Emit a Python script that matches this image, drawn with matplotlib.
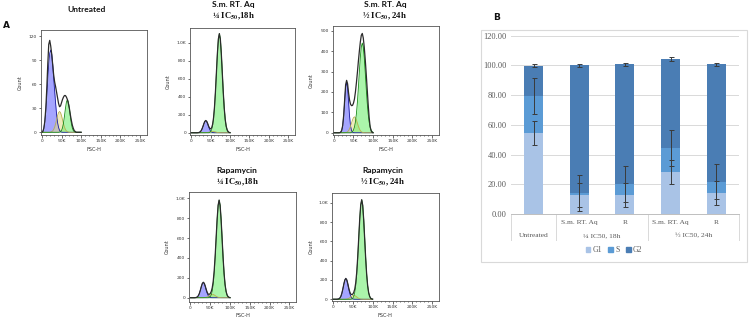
import numpy as np
import matplotlib
matplotlib.use("Agg")
import matplotlib.pyplot as plt
from matplotlib.patches import Rectangle
from matplotlib.transforms import blended_transform_factory

plt.rcParams['mathtext.fontset'] = 'stix'

# ---------------- Panel A data (FSC-H in thousands, counts) ----------------
FSC_K = [0, 2.5, 5, 7.5, 10, 12.5, 15, 17.5, 20, 22.5, 25, 27.5, 30, 32.5, 35, 37.5, 40,
         42.5, 45, 47.5, 50, 52.5, 55, 57.5, 60, 62.5, 65, 67.5, 70, 72.5, 75, 77.5, 80,
         82.5, 85, 87.5, 90, 92.5, 95, 97.5, 100]

# Untreated
UNT_G1 = [0, 1, 5, 13, 26, 44, 66, 86, 99, 103, 98, 85, 68, 52, 36, 22, 12, 6, 2.5, 1, 0.3,
          0, 0, 0, 0, 0, 0, 0, 0, 0, 0, 0, 0, 0, 0, 0, 0, 0, 0, 0, 0]
UNT_S = [0, 0, 0, 0, 0, 0, 0, 0, 0, 0.3, 0.8, 1.7, 3.5, 6.5, 10.7, 15.8, 20.8, 24.6, 26, 24.6,
         20.8, 15.8, 10.7, 6.5, 3.5, 1.7, 0.8, 0.3, 0, 0, 0, 0, 0, 0, 0, 0, 0, 0, 0, 0, 0]
UNT_G2 = [0, 0, 0, 0, 0, 0, 0, 0, 0, 0, 0, 0, 0, 0, 0, 0, 0, 0, 0.3, 0.8, 2.3, 5.5, 11.4, 20,
          29.8, 37.8, 41, 37.8, 29.8, 20, 11.4, 5.5, 2.3, 0.8, 0.3, 0, 0, 0, 0, 0, 0]
UNT_TOTAL = [0, 1, 5, 14, 30, 55, 85, 110, 115, 108, 98, 85, 72, 63, 57, 50, 43, 36, 32, 33,
             37, 41, 44, 46, 46, 44, 41, 36, 30, 22, 15, 9, 5, 2, 1, 0, 0, 0, 0, 0, 0]

# S.m. RT. Aq 1/4 IC50, 18h
SMQ_G1 = [0, 0, 0, 0, 0, 0, 0, 0.8, 2.7, 7.6, 18.2, 37.5, 65.7, 98, 124.6, 135, 124.6, 98,
          65.7, 37.5, 18.2, 7.6, 2.7, 0.8, 0, 0, 0, 0, 0, 0, 0, 0, 0, 0, 0, 0, 0, 0, 0, 0, 0]
SMQ_S = [0, 0, 0, 0, 0, 0, 0, 0, 0, 0, 0, 0, 0, 0, 0.4, 1, 2, 3.7, 6.2, 9.1, 12, 14.2, 15, 14.2,
         12, 9.1, 6.2, 3.7, 2, 1, 0.4, 0, 0, 0, 0, 0, 0, 0, 0, 0, 0]
SMQ_G2 = [0, 0, 0, 0, 0, 0, 0, 0, 0, 0, 0, 0, 0, 0, 0, 0, 0, 0, 0, 4, 12, 32, 73, 149, 274, 452,
          668, 881, 1041, 1100, 1041, 881, 668, 452, 274, 149, 73, 32, 12, 4, 1]

# S.m. RT. Aq 1/2 IC50, 24h
SMH_G1 = [0, 0, 0, 0, 0, 0, 0.5, 2.8, 11, 33.8, 81.2, 151.6, 220.5, 250, 220.5, 151.6, 81.2,
          33.8, 11, 2.8, 0.5, 0, 0, 0, 0, 0, 0, 0, 0, 0, 0, 0, 0, 0, 0, 0, 0, 0, 0, 0, 0]
SMH_S = [0, 0, 0, 0, 0, 0, 0, 0, 0, 0, 0, 0.3, 0.9, 2.3, 5.1, 10.5, 19.4, 32.1, 47.3, 62.5, 73.8,
         78, 73.8, 62.5, 47.3, 32.1, 19.4, 10.5, 5.1, 2.3, 0.9, 0.3, 0, 0, 0, 0, 0, 0, 0, 0, 0]
SMH_G2 = [0, 0, 0, 0, 0, 0, 0, 0, 0, 0, 0, 0, 0, 0, 0, 0, 0, 0, 2, 6, 13, 28, 53, 93, 149, 220,
          298, 370, 421.5, 440, 421.5, 370, 298, 220, 149, 93, 53, 28, 13, 6, 2]
SMH_TOTAL = [0, 0, 0, 0, 0, 0, 0.5, 3, 12, 35, 85, 160, 235, 257, 240, 195, 160, 140, 133, 134,
             145, 165, 200, 245, 295, 350, 400, 445, 478, 487, 465, 420, 360, 290, 215, 140,
             75, 30, 10, 2, 0]

# Rapamycin 1/4 IC50, 18h
RAQ_G1 = [0, 0, 0, 0, 0, 0.9, 3.1, 8.7, 20.9, 43.1, 75.5, 112.5, 143, 155, 143, 112.5, 75.5,
          43.1, 20.9, 8.7, 3.1, 0.9, 0, 0, 0, 0, 0, 0, 0, 0, 0, 0, 0, 0, 0, 0, 0, 0, 0, 0, 0]
RAQ_S = [0, 0, 0, 0, 0, 0, 0, 0, 0, 0, 0, 0, 0, 0.4, 1.0, 2.3, 4.7, 8.7, 14.4, 21.2, 28, 33.1,
         35, 33.1, 28, 21.2, 14.4, 8.7, 4.7, 2.3, 1.0, 0.4, 0, 0, 0, 0, 0, 0, 0, 0, 0]
RAQ_G2 = [0, 0, 0, 0, 0, 0, 0, 0, 0, 0, 0, 0, 0, 0, 0, 0, 0, 0, 0, 4, 11, 28, 65, 132, 244, 403,
          595, 785, 927, 980, 927, 785, 595, 403, 244, 132, 65, 28, 11, 4, 1]

# Rapamycin 1/2 IC50, 24h
RAH_G1 = [0, 0, 0, 0, 0, 1.3, 4.3, 12, 29, 59.8, 104.7, 156.1, 198.4, 215, 198.4, 156.1, 104.7,
          59.8, 29, 12, 4.3, 1.3, 0, 0, 0, 0, 0, 0, 0, 0, 0, 0, 0, 0, 0, 0, 0, 0, 0, 0, 0]
RAH_S = [0, 0, 0, 0, 0, 0, 0, 0, 0, 0, 0, 0, 0.4, 1.2, 2.6, 5.4, 10, 16.4, 24.3, 32, 37.8, 40,
         37.8, 32, 24.3, 16.4, 10, 5.4, 2.6, 1.2, 0.4, 0, 0, 0, 0, 0, 0, 0, 0, 0, 0]
RAH_G2 = [0, 0, 0, 0, 0, 0, 0, 0, 0, 0, 0, 0, 0, 0, 0, 0, 0, 0, 0, 4, 11, 30, 68, 139, 256, 423,
          625, 825, 974, 1030, 974, 825, 625, 423, 256, 139, 68, 30, 11, 4, 1]

X_TICKS_K = [0, 50, 100, 150, 200, 250]

# ---------------- Panel B data ----------------
CATEGORIES = ["Untreated", "S.m. RT. Aq", "R", "S.m. RT. Aq", "R"]
GROUPS = ["\u00bc IC50, 18h", "\u00bd IC50, 24h"]
G1 = [54.4, 12.6, 12.6, 28.3, 14.2]
S = [25.2, 1.6, 7.6, 16.0, 7.6]
G2 = [20.2, 85.8, 80.5, 60.2, 78.9]
G1_ERR = [8, 8, 8, 8, 8]
S_ERR = [12, 12, 12, 12, 12]
G2_ERR = [1.0, 1.0, 1.0, 1.3, 1.0]
Y_TICKS_B = [0, 20, 40, 60, 80, 100, 120]

# ---------------- figure ----------------
W, H = 749, 320
fig = plt.figure(figsize=(W / 100, H / 100), dpi=100)


def rect(x0, x1, y0, y1):
    return [x0 / W, 1 - y1 / H, (x1 - x0) / W, (y1 - y0) / H]


def ftext(x, y, s, **kw):
    fig.text(x / W, 1 - y / H, s, **kw)


x = np.array(FSC_K)


def hist_panel(box, ylim, yticks, ylabels, g1, s, g2, total, count_x, fsc_y):
    ax = fig.add_axes(rect(*box))
    g1, s, g2 = np.array(g1), np.array(s), np.array(g2)
    if total is None:
        total = g1 + s + g2
    for vals, fc, ec in [(g1, '#5c5cff', '#1b1ba0'),
                         (s, '#e3da86', '#b9b050'),
                         (g2, '#66ee66', '#148a14')]:
        ax.fill_between(x, vals, color=fc, alpha=0.55, lw=0)
        ax.plot(x, vals, color=ec, lw=0.6)
    ax.plot(x, total, color='#2b2b2b', lw=0.9)
    ax.set_xlim(-3, 267)
    ax.set_ylim(*ylim)
    ax.set_xticks(X_TICKS_K)
    ax.set_xticklabels(["0" if v == 0 else f"{v}K" for v in X_TICKS_K])
    ax.set_xticks(np.arange(10, 260, 10), minor=True)
    ax.set_yticks(yticks)
    ax.set_yticklabels(ylabels)
    ax.tick_params(labelsize=3.2, length=1.8, width=0.5, pad=1, colors='#333333')
    ax.tick_params(which='minor', length=1.0, width=0.4)
    for sp in ax.spines.values():
        sp.set_linewidth(0.6)
        sp.set_color('#555555')
    cx = (box[0] + box[1]) / 2
    cy = (box[2] + box[3]) / 2
    ftext(count_x, cy, "Count", rotation=90, ha='center', va='center', fontsize=3.6, color='#333333')
    ftext(cx, fsc_y, "FSC-H", ha='center', va='center', fontsize=3.6, color='#333333')
    return ax


hist_panel((40.7, 146.7, 30, 135), (-3.4, 128), [0, 30, 60, 90, 120], ["0", "30", "60", "90", "120"],
           UNT_G1, UNT_S, UNT_G2, UNT_TOTAL, 20.7, 149.5)
hist_panel((190, 295, 28.3, 135), (-25, 1160), [0, 200, 400, 600, 800, 1000],
           ["0", "200", "400", "600", "800", "1.0K"], SMQ_G1, SMQ_S, SMQ_G2, None, 168, 149.5)
hist_panel((332.7, 438.5, 25.7, 135), (-11, 525), [0, 100, 200, 300, 400, 500],
           ["0", "100", "200", "300", "400", "500"], SMH_G1, SMH_S, SMH_G2, SMH_TOTAL, 311, 149.5)
hist_panel((189.3, 296, 191.7, 301.7), (-40, 1066), [0, 200, 400, 600, 800, 1000],
           ["0", "200", "400", "600", "800", "1.0K"], RAQ_G1, RAQ_S, RAQ_G2, None, 167, 315.7)
hist_panel((331.7, 439, 192.7, 301), (-18, 1104), [0, 200, 400, 600, 800, 1000],
           ["0", "200", "400", "600", "800", "1.0K"], RAH_G1, RAH_S, RAH_G2, None, 311, 315.7)

title_kw = dict(ha='center', va='center', fontsize=6, fontweight='bold', family='Lato', color='#111111')
sub_kw = dict(ha='center', va='center', fontsize=6.3, fontweight='bold', family='Liberation Serif',
              color='#111111')
Q = "\u00bc IC$_{\\mathbf{50}}$,18h"
HF = "\u00bd IC$_{\\mathbf{50}}$, 24h"
ftext(87, 10, "Untreated", **title_kw)
ftext(233, 5, "S.m. RT. Aq", **title_kw)
ftext(233, 16, Q, **sub_kw)
ftext(385, 5, "S.m. RT. Aq", **title_kw)
ftext(385, 16, HF, **sub_kw)
ftext(237, 170, "Rapamycin", **title_kw)
ftext(237, 182, Q, **sub_kw)
ftext(383, 170, "Rapamycin", **title_kw)
ftext(383, 182, HF, **sub_kw)
ftext(6, 25, "A", ha='center', va='center', fontsize=6.5, fontweight='bold', color='#111111')
ftext(497, 18, "B", ha='center', va='center', fontsize=6.5, fontweight='bold', color='#111111')

# ---------------- Panel B ----------------
fig.patches.append(Rectangle((481 / W, 1 - 262 / H), (747 - 481) / W, (262 - 30) / H,
                             transform=fig.transFigure, fill=False, edgecolor='#d9d9d9', lw=0.8))

axb = fig.add_axes(rect(510.7, 739, 35.7, 214))
pos = np.arange(len(CATEGORIES))
g1 = np.array(G1); s_ = np.array(S); g2 = np.array(G2)
C_G1, C_S, C_G2 = '#a9c3e6', '#5b9bd5', '#4a7db4'
bw = 0.41
axb.bar(pos, g1, bw, color=C_G1, zorder=2)
axb.bar(pos, s_, bw, bottom=g1, color=C_S, zorder=2)
axb.bar(pos, g2, bw, bottom=g1 + s_, color=C_G2, zorder=2)
ekw = dict(fmt='none', ecolor='#3a3a3a', elinewidth=0.7, capsize=1.8, capthick=0.7, zorder=3)
axb.errorbar(pos, g1, yerr=G1_ERR, **ekw)
axb.errorbar(pos, g1 + s_, yerr=S_ERR, **ekw)
axb.errorbar(pos, g1 + s_ + g2, yerr=G2_ERR, **ekw)
axb.set_ylim(0, 120)
axb.set_xlim(-0.5, len(CATEGORIES) - 0.5)
axb.set_yticks(Y_TICKS_B)
axb.set_yticklabels([f"{v:.2f}" for v in Y_TICKS_B])
axb.yaxis.grid(True, color='#d9d9d9', lw=0.7, zorder=0)
axb.set_axisbelow(True)
axb.tick_params(axis='y', length=0, labelsize=6.0, labelcolor='#595959', pad=3)
for lab in axb.get_yticklabels():
    lab.set_family('Liberation Serif')
axb.set_xticks([])
for k in ['top', 'right', 'left']:
    axb.spines[k].set_visible(False)
axb.spines['bottom'].set_color('#bfbfbf')
axb.spines['bottom'].set_linewidth(0.7)

tr = blended_transform_factory(axb.transData, axb.transAxes)
serif = dict(family='Liberation Serif', fontsize=5.4, color='#595959', ha='center', va='center')
y_sub = (214 - 222.7) / (214 - 35.7)
y_grp = (214 - 235.7) / (214 - 35.7)
y_end = (214 - 240) / (214 - 35.7)
axb.text(pos[0], y_grp, CATEGORIES[0], transform=tr, **serif)
for i in range(1, len(CATEGORIES)):
    axb.text(pos[i], y_sub, CATEGORIES[i], transform=tr, **serif)
axb.text((pos[1] + pos[2]) / 2, y_grp, GROUPS[0], transform=tr, **serif)
axb.text((pos[3] + pos[4]) / 2, y_grp, GROUPS[1], transform=tr, **serif)
for xv in [-0.5, 0.5, 2.5, 4.5]:
    axb.plot([xv, xv], [0, y_end], transform=tr, color='#d9d9d9', lw=0.7, clip_on=False)

handles = [Rectangle((0, 0), 1, 1, color=c) for c in (C_G1, C_S, C_G2)]
leg = fig.legend(handles, ["G1", "S", "G2"], loc='center', bbox_to_anchor=(614 / W, 1 - 250 / H),
                 ncol=3, frameon=False, handlelength=0.6, handleheight=0.6, handletextpad=0.3,
                 columnspacing=0.8, prop={'family': 'Liberation Serif', 'size': 5.6})
for t in leg.get_texts():
    t.set_color('#595959')

fig.savefig("out.png", dpi=100)
